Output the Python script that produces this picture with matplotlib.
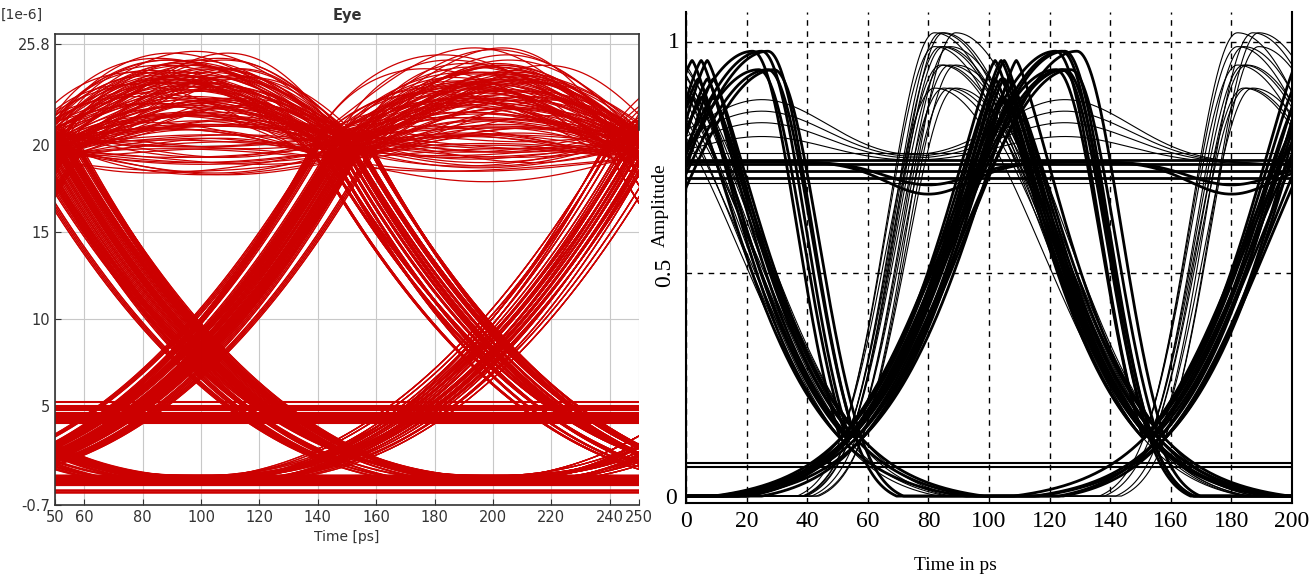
import numpy as np
import matplotlib.pyplot as plt

# ---------------- left panel: red eye (units of 1e-6) ----------------
# bits b0..b4 around the edges at 0, 100, 200, 300 ps
bit_patterns = [
    "00000", "00001", "00010", "00011", "00100", "00101", "00110", "00111",
    "01000", "01001", "01010", "01011", "01100", "01101", "01110", "01111",
    "10000", "10001", "10010", "10011", "10100", "10101", "10110", "10111",
    "11000", "11001", "11010", "11011", "11100", "11101", "11110", "11111",
]
edge_times = [0, 100, 200, 300]
jitter_ps = [-11, -10, -9, -5, -4, -3, -2, -1, 0, 1, 2, 3, 4, 6, 8]
jitter_fine = [0.0, 0.6, 1.2, -0.6]
high_levels = [19.4, 20.1, 20.7, 19.2, 19.7, 20.4, 20.9, 19.3, 20.0, 20.6,
               19.5, 20.3, 19.8, 20.5, 19.6]
low_levels = [0.5, 0.75, 0.6, 0.95, 0.45, 0.85, 0.65, 1.0, 0.55, 0.8, 0.7, 0.9,
              0.5, 0.75, 0.6]
edge_power = [2.3, 2.2, 2.4, 2.25, 2.35, 2.3, 2.2, 2.4, 2.3, 2.25, 2.35, 2.3,
              2.2, 2.4, 2.3]
hump_heights = [4.9, 4.5, 4.1, 3.7, 3.3, 2.9, 2.5, 2.1, 1.7, 1.2, 0.6, -0.7, -1.3,
                4.3, 3.0]
hump_skew = [0.7, 0.8, 0.9, 1.0, 1.1, 1.25, 1.4]
mid_band = [4.0, 4.12, 4.25, 4.38, 4.5, 4.62, 4.75, 4.88, 5.0, 5.25]
floor_band = [0.05, 0.15]

left_ticks_x = [50, 60, 80, 100, 120, 140, 160, 180, 200, 220, 240, 250]
left_ticks_y = [-0.7, 5, 10, 15, 20, 25.8]

# ---------------- right panel: black eye ----------------
# one pulse per 100 ps slot; slots start at the eye crossings
slot_starts = [-46, 54, 154]
slot_jitter = [-3, -1, 0, 2, 4]
# pulse kinds: peak offset in the slot, amplitudes, line width, tip sharpness
kind_peak = [31, 51, 71]
kind_amps = [[1.02, 0.99, 0.95, 0.90],
             [0.96, 0.92, 0.88],
             [0.98, 0.94]]
kind_lw = [0.8, 2.0, 2.0]
kind_power = [2.0, 1.3, 2.0]
slot_bits = ["111", "110", "011", "010", "101"]
cross_level = 0.14
floor_level = 0.015
# thin ripples riding on the upper plateau
plateau_level = 0.735
ripple_centres = [25, 125]
ripple_heights = [0.14, 0.115, 0.09, 0.06]
flat_thick = [0.705, 0.72, 0.735, 0.745]
flat_thin = [0.695, 0.76]
dip_depth = [0.07, 0.05]
floor_lines = [0.078, 0.086]

right_ticks_x = [0, 20, 40, 60, 80, 100, 120, 140, 160, 180, 200]

RED = "#cc0000"

fig = plt.figure(figsize=(13.14, 5.76), dpi=100)

# ---- left eye ----
ax1 = fig.add_axes([0.0419, 0.1233, 0.4444, 0.8177])
t = np.linspace(50, 250, 801)

for pi_, bits in enumerate(bit_patterns):
    b = [int(c) for c in bits]
    for j in range(len(jitter_ps)):
        hi, lo, pw = high_levels[j], low_levels[j], edge_power[j]
        v = np.full_like(t, np.nan)
        for k, tc0 in enumerate(edge_times):
            tc = tc0 + jitter_ps[j] + jitter_fine[pi_ % len(jitter_fine)]
            a, c = b[k], b[k + 1]
            if a == 0 and c == 1:
                w = (t >= tc - 100) & (t <= tc + 50)
                seg = lo + (hi - lo) * np.clip((t - tc + 100) / 150, 0, 1) ** pw
            elif a == 1 and c == 0:
                w = (t >= tc - 50) & (t <= tc + 100)
                seg = lo + (hi - lo) * np.clip((tc + 100 - t) / 150, 0, 1) ** pw
            elif a == 1:
                h = hump_heights[(3 * j + pi_ + k) % len(hump_heights)]
                q = hump_skew[(j + 2 * pi_ + k) % len(hump_skew)]
                w = (t >= tc - 50) & (t <= tc + 50)
                x = np.clip((t - tc + 50) / 100, 0, 1)
                seg = hi + h * np.sin(np.pi * x ** q)
            else:
                w = (t >= tc - 100) & (t <= tc + 100)
                seg = np.full_like(t, lo)
            v = np.where(w, np.fmax(v, np.where(w, seg, np.nan)), v)
        ax1.plot(t, v, color=RED, lw=0.9)

for lvl in mid_band:
    ax1.plot([50, 250], [lvl, lvl], color=RED, lw=1.5)
for lvl in floor_band:
    ax1.plot([50, 250], [lvl, lvl], color=RED, lw=1.8)

ax1.set_xlim(50, 250)
ax1.set_ylim(-0.7, 26.4)
ax1.set_xticks(left_ticks_x)
ax1.set_yticks(left_ticks_y)
ax1.set_yticklabels(["-0.7", "5", "10", "15", "20", "25.8"])
ax1.grid(True, color="#c8c8c8", lw=0.8)
ax1.set_axisbelow(True)
ax1.tick_params(direction="in", length=4, labelsize=10.5, colors="#333333",
                labelcolor="#333333")
for sp in ax1.spines.values():
    sp.set_color("#333333")
    sp.set_linewidth(1.2)
ax1.spines["right"].set_bounds(20.9, 26.4)
ax1.set_xlabel("Time [ps]", fontsize=10, color="#333333")
ax1.set_title("Eye", fontsize=10.5, fontweight="bold", color="#333333", pad=10)
fig.text(22 / 1314, 1 - 15 / 576, "[1e-6]", fontsize=10, color="#333333",
         ha="center", va="center")

# ---- right eye ----
ax2 = fig.add_axes([0.5221, 0.1267, 0.4612, 0.8524])
tr = np.linspace(0, 200, 1201)


def pulse(tt, start, peak_off, amp, power):
    # peak at start+peak_off, passing cross_level at both slot edges
    p = start + peak_off
    out = np.zeros_like(tt)
    for side, d in ((tt <= p, peak_off), (tt > p, 100 - peak_off)):
        s = d / np.log(amp / cross_level) ** (1 / power)
        val = amp * np.exp(-(np.abs(tt - p) / s) ** power)
        out = np.where(side, val, out)
    return out


for peak_off, amps, lw, power in zip(kind_peak, kind_amps, kind_lw, kind_power):
    for ib, bits in enumerate(slot_bits):
        for ia, amp in enumerate(amps):
            shift = slot_jitter[(ia + 2 * ib) % len(slot_jitter)]
            v = np.full_like(tr, floor_level)
            for start, bit in zip(slot_starts, bits):
                if bit == "1":
                    v = np.maximum(v, pulse(tr, start + shift, peak_off, amp, power))
            ax2.plot(tr, v, color="black", lw=lw)

for h in ripple_heights:
    v = plateau_level + sum(h * np.exp(-0.5 * ((tr - c) / 22) ** 2)
                            for c in ripple_centres)
    ax2.plot(tr, v, color="black", lw=0.8)

for lvl in flat_thick:
    ax2.plot([0, 200], [lvl, lvl], color="black", lw=2.0)
for lvl in flat_thin:
    ax2.plot([0, 200], [lvl, lvl], color="black", lw=0.8)
for depth in dip_depth:
    dip = 0.74 - depth * (np.exp(-0.5 * ((tr - 80) / 14) ** 2)
                          + np.exp(-0.5 * ((tr - 180) / 14) ** 2))
    ax2.plot(tr, dip, color="black", lw=2.0)
for lvl in floor_lines:
    ax2.plot([0, 200], [lvl, lvl], color="black", lw=1.5)

ax2.set_xlim(0, 200)
ax2.set_ylim(0, 1.065)
ax2.set_xticks(right_ticks_x)
ax2.set_xticklabels([str(x) for x in right_ticks_x], family="Liberation Serif",
                    fontsize=17)
ax2.set_yticks([0, 0.5, 1])
ax2.set_yticklabels([])
ax2.grid(True, color="black", ls=(0, (4, 4)), lw=1.0)
ax2.tick_params(direction="in", length=0, pad=6)
ax2.spines["top"].set_visible(False)
for sp in ["left", "right", "bottom"]:
    ax2.spines[sp].set_linewidth(1.5)
ax2.text(-0.01, 1.0, "1", transform=ax2.get_yaxis_transform(), ha="right",
         va="center", family="Liberation Serif", fontsize=17)
ax2.text(-0.035, 0.5, "0.5", transform=ax2.get_yaxis_transform(), ha="center",
         va="center", rotation=90, family="Liberation Serif", fontsize=17)
ax2.text(-0.015, 0.01, "0", transform=ax2.get_yaxis_transform(), ha="right",
         va="center", family="Liberation Serif", fontsize=17)
fig.text(660 / 1314, 1 - 205 / 576, "Amplitude", rotation=90, ha="center",
         va="center", family="Liberation Serif", fontsize=14)
fig.text(955 / 1314, 1 - 565 / 576, "Time in ps", ha="center", va="center",
         family="Liberation Serif", fontsize=14)

fig.savefig("out.png", dpi=100)
